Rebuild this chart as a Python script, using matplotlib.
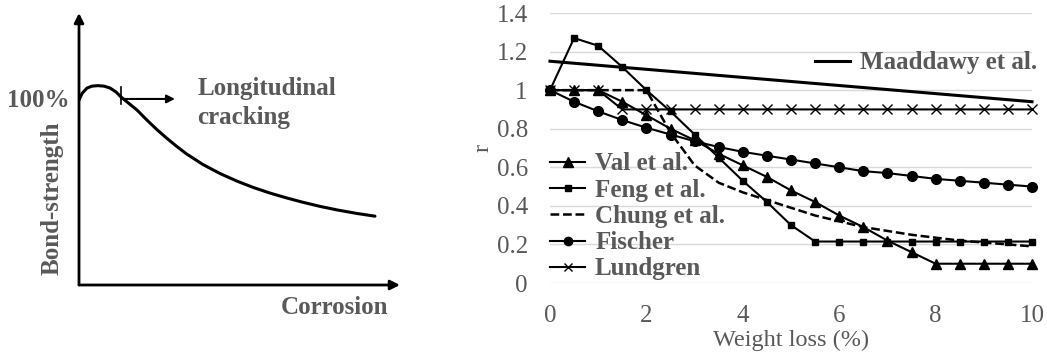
import matplotlib
matplotlib.use('Agg')
import matplotlib.pyplot as plt
from matplotlib.lines import Line2D

plt.rcParams['font.family'] = ['Liberation Serif', 'DejaVu Serif']
gray = '#595959'

# --- left schematic: bond strength vs corrosion (relative units) ---
sketch_x = [0.0, 0.01, 0.025, 0.04, 0.059, 0.078, 0.097, 0.115, 0.131, 0.181, 0.211, 0.243, 0.273,
            0.305, 0.335, 0.386, 0.439, 0.492, 0.542, 0.595, 0.647, 0.698, 0.751, 0.804, 0.866, 0.922]
sketch_y = [0.68, 0.705, 0.724, 0.731, 0.733, 0.731, 0.724, 0.71, 0.691, 0.643, 0.607, 0.571, 0.540,
            0.509, 0.482, 0.443, 0.410, 0.382, 0.359, 0.338, 0.320, 0.304, 0.289, 0.276, 0.263, 0.253]
crack_x = 0.131
crack_y = 0.684

# --- right chart: r vs weight loss ---
w = [0, 0.5, 1, 1.5, 2, 2.5, 3, 3.5, 4, 4.5, 5, 5.5, 6, 6.5, 7, 7.5, 8, 8.5, 9, 9.5, 10]
val = [1, 1, 1, 0.94, 0.87, 0.80, 0.74, 0.67, 0.61, 0.55, 0.48, 0.42, 0.35, 0.29, 0.22, 0.16,
       0.10, 0.10, 0.10, 0.10, 0.10]
feng = [1, 1.27, 1.23, 1.12, 1.0, 0.89, 0.77, 0.65, 0.53, 0.42, 0.30, 0.215, 0.215, 0.215, 0.215,
        0.215, 0.215, 0.215, 0.215, 0.215, 0.215]
chung = [1, 1, 1, 1, 1, 0.78, 0.61, 0.52, 0.47, 0.43, 0.39, 0.35, 0.32, 0.29, 0.27, 0.25,
         0.235, 0.22, 0.21, 0.20, 0.19]
fischer = [1, 0.94, 0.89, 0.845, 0.805, 0.77, 0.735, 0.705, 0.68, 0.66, 0.64, 0.62, 0.60, 0.58,
           0.57, 0.555, 0.54, 0.53, 0.52, 0.51, 0.50]
lundgren = [1, 1, 1, 0.9, 0.9, 0.9, 0.9, 0.9, 0.9, 0.9, 0.9, 0.9, 0.9, 0.9, 0.9, 0.9,
            0.9, 0.9, 0.9, 0.9, 0.9]
maad_w = [0, 10]
maad = [1.15, 0.94]

yticks = [0, 0.2, 0.4, 0.6, 0.8, 1.0, 1.2, 1.4]
ytick_labels = ['0', '0.2', '0.4', '0.6', '0.8', '1', '1.2', '1.4']
xticks = [0, 2, 4, 6, 8, 10]

W, H = 1047, 355
fig = plt.figure(figsize=(W / 100, H / 100), dpi=100)

# left panel
axl = fig.add_axes([79 / W, 1 - 285 / H, 321 / W, 272 / H])
axl.set_xlim(0, 1)
axl.set_ylim(0, 1)
axl.axis('off')
arrow = dict(arrowstyle='-|>', color='black', lw=2, mutation_scale=14, shrinkA=0, shrinkB=0)
axl.annotate('', xy=(0, 1.0), xytext=(0, 0), arrowprops=arrow, annotation_clip=False)
axl.annotate('', xy=(1.0, 0), xytext=(0, 0), arrowprops=arrow, annotation_clip=False)
axl.plot(sketch_x, sketch_y, color='black', lw=2.2, solid_capstyle='round', solid_joinstyle='round')
axl.plot([crack_x, crack_x], [crack_y - 0.02, crack_y + 0.045], color='black', lw=1.2)
axl.annotate('', xy=(0.299, crack_y), xytext=(crack_x, crack_y),
             arrowprops=dict(arrowstyle='-|>', color='black', lw=1.5, mutation_scale=12,
                             shrinkA=0, shrinkB=0))
tkw = dict(color=gray, fontsize=18, fontweight='bold')
axl.text(-0.028, 0.68, '100%', ha='right', va='center', clip_on=False, **tkw)
axl.text(-0.084, 0.32, 'Bond-strength', rotation=90, ha='center', va='center', clip_on=False, **tkw)
axl.text(0.368, 0.724, 'Longitudinal', ha='left', va='center', **tkw)
axl.text(0.368, 0.614, 'cracking', ha='left', va='center', **tkw)
axl.text(0.963, -0.081, 'Corrosion', ha='right', va='center', clip_on=False, **tkw)

# right panel
ax = fig.add_axes([550 / W, 1 - 283 / H, 482 / W, 270 / H])
ax.set_xlim(0, 10)
ax.set_ylim(0, 1.4)
ax.set_yticks(yticks)
ax.set_yticklabels(ytick_labels)
ax.set_xticks(xticks)
ax.tick_params(length=0, labelsize=18, colors=gray, pad=16)
ax.yaxis.grid(True, color='#d9d9d9', lw=1)
ax.set_axisbelow(True)
for s in ax.spines.values():
    s.set_visible(False)

lk = dict(color='black', lw=1.5, clip_on=False)
ax.plot(maad_w, maad, lw=2.2, color='black', clip_on=False)
ax.plot(w, lundgren, marker='x', ms=7, mew=1, **lk)
ax.plot(w, fischer, marker='o', ms=7, **lk)
ax.plot(w, chung, color='black', lw=1.8, ls='--', dashes=(3.5, 1.5), clip_on=False)
ax.plot(w, feng, marker='s', ms=5, **lk)
ax.plot(w, val, marker='^', ms=7, **lk)

ax.set_xlabel('Weight loss (%)', fontsize=17.5, color=gray, labelpad=2)
ax.set_ylabel('r', fontsize=17.5, color=gray, labelpad=2)

handles = [
    Line2D([], [], color='black', lw=1.5, marker='^', ms=7),
    Line2D([], [], color='black', lw=1.5, marker='s', ms=5),
    Line2D([], [], color='black', lw=1.8, ls='--', dashes=(3.5, 1.5)),
    Line2D([], [], color='black', lw=1.5, marker='o', ms=6),
    Line2D([], [], color='black', lw=1.5, marker='x', ms=6, mew=1),
]
labels = ['Val et al.', 'Feng et al.', 'Chung et al.', 'Fischer', 'Lundgren']
leg1 = ax.legend(handles, labels, loc='lower left', bbox_to_anchor=(-0.005, 0.0),
                 frameon=False, prop={'family': 'Liberation Serif', 'weight': 'bold', 'size': 18},
                 labelcolor=gray, handlelength=1.4, handletextpad=0.4, labelspacing=0.13,
                 borderpad=0.1, borderaxespad=0)
ax.add_artist(leg1)
ax.legend([Line2D([], [], color='black', lw=2.2)], ['Maaddawy et al.'], loc='center left',
          bbox_to_anchor=(0.55, 0.815), frameon=False,
          prop={'family': 'Liberation Serif', 'weight': 'bold', 'size': 18},
          labelcolor=gray, handlelength=1.4, handletextpad=0.4, borderpad=0, borderaxespad=0)

fig.savefig('out.png', dpi=100)
